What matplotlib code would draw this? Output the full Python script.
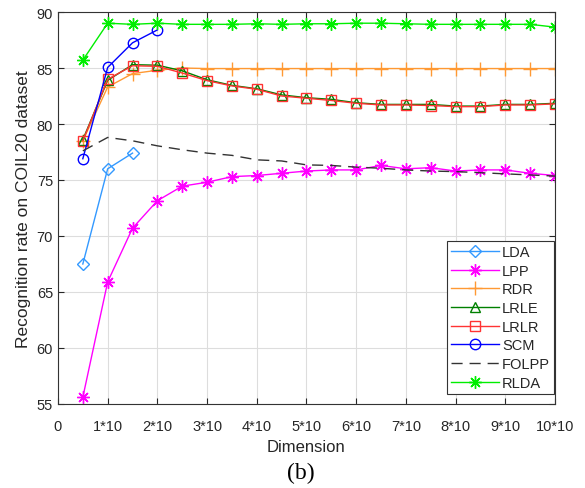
import numpy as np
import matplotlib
matplotlib.use('Agg')
import matplotlib.pyplot as plt

plt.rcParams['font.family'] = ['Liberation Sans', 'DejaVu Sans']

# dimensions (x axis)
dim_all = [5, 10, 15, 20, 25, 30, 35, 40, 45, 50, 55, 60, 65, 70, 75, 80, 85, 90, 95, 100]
dim_lda = [5, 10, 15]
dim_scm = [5, 10, 15, 20]

lda = [67.5, 76.0, 77.4]
lpp = [55.6, 65.9, 70.7, 73.15, 74.45, 74.8, 75.3, 75.4, 75.6, 75.8, 75.9, 75.9,
       76.3, 76.0, 76.1, 75.8, 75.9, 75.9, 75.6, 75.4]
rdr = [78.5, 83.3, 84.5, 84.8, 85.0, 84.95, 84.95, 84.95, 84.95, 84.95, 84.95, 84.95,
       84.95, 84.95, 84.95, 84.95, 84.95, 84.95, 84.95, 84.95]
lrle = [78.6, 83.9, 85.3, 85.25, 84.75, 83.95, 83.45, 83.15, 82.6, 82.35, 82.2, 81.9,
        81.75, 81.75, 81.75, 81.6, 81.6, 81.75, 81.75, 81.85]
lrlr = [78.5, 84.0, 85.2, 85.15, 84.55, 83.87, 83.4, 83.1, 82.5, 82.3, 82.1, 81.85,
        81.7, 81.7, 81.65, 81.55, 81.55, 81.7, 81.7, 81.8]
scm = [76.9, 85.05, 87.25, 88.4]
folpp = [77.6, 78.8, 78.5, 78.05, 77.7, 77.4, 77.2, 76.8, 76.7, 76.35, 76.3, 76.15,
         76.05, 75.9, 75.8, 75.75, 75.65, 75.55, 75.45, 75.35]
rlda = [85.7, 89.0, 88.9, 89.0, 88.9, 88.9, 88.9, 88.95, 88.9, 88.95, 88.95, 89.0,
        89.0, 88.95, 88.9, 88.9, 88.9, 88.9, 88.9, 88.65]

xtick_vals = [0, 10, 20, 30, 40, 50, 60, 70, 80, 90, 100]
xtick_labels = ['0', '1*10', '2*10', '3*10', '4*10', '5*10', '6*10', '7*10', '8*10', '9*10', '10*10']

fig = plt.figure(figsize=(5.85, 4.89), dpi=100)
ax = fig.add_axes([0.0991, 0.1718, 0.8496, 0.8016])

txt = '#262626'
star = (8, 2, 0)  # matlab-like asterisk
ax.plot(dim_lda, lda, color='#3399ff', marker='D', ms=6, mfc='none', lw=1.0, label='LDA')
ax.plot(dim_all, lpp, color='#ff00ff', marker=star, ms=9, mew=1.0, lw=1.0, label='LPP')
ax.plot(dim_all, rdr, color='#ff9933', marker='+', ms=10, mew=1.0, lw=1.0, label='RDR')
ax.plot(dim_all, lrle, color='#008000', marker='^', ms=7, mfc='none', lw=1.0, label='LRLE')
ax.plot(dim_all, lrlr, color='#ff3333', marker='s', ms=6.5, mfc='none', lw=1.0, label='LRLR')
ax.plot(dim_scm, scm, color='#0000ff', marker='o', ms=7.5, mfc='none', lw=1.0, label='SCM')
ax.plot(dim_all, folpp, color='#333333', ls=(0, (8, 5)), lw=1.0, label='FOLPP')
ax.plot(dim_all, rlda, color='#00ee00', marker=star, ms=9, mew=1.0, lw=1.0, label='RLDA')

ax.set_xlim(0, 100)
ax.set_ylim(55, 90)
ax.set_xticks(xtick_vals)
ax.set_xticklabels(xtick_labels)
ax.set_yticks(np.arange(55, 91, 5))
ax.grid(True, color='#dddddd', lw=0.8)
ax.set_axisbelow(True)
ax.tick_params(direction='in', top=True, right=True, labelsize=10.5, colors=txt, length=4)
ax.tick_params(axis='x', pad=11)
for sp in ax.spines.values():
    sp.set_color('#333333')
    sp.set_linewidth(0.8)

ax.set_xlabel('Dimension', fontsize=12, color=txt, labelpad=4)
ax.set_ylabel('Recognition rate on COIL20 dataset', fontsize=12.5, color=txt, labelpad=4)

leg = ax.legend(loc='lower right', fontsize=10.5, handlelength=3.3, labelspacing=0.32,
                borderpad=0.3, handletextpad=0.2, fancybox=False, framealpha=1,
                edgecolor='#333333', bbox_to_anchor=(0.999, 0.025), borderaxespad=0)
leg.get_frame().set_linewidth(0.8)
for t in leg.get_texts():
    t.set_color(txt)

fig.text(0.515, 0.01, '(b)', family='Liberation Serif', fontsize=17, ha='center', va='bottom')

fig.savefig('out.png', dpi=100)
